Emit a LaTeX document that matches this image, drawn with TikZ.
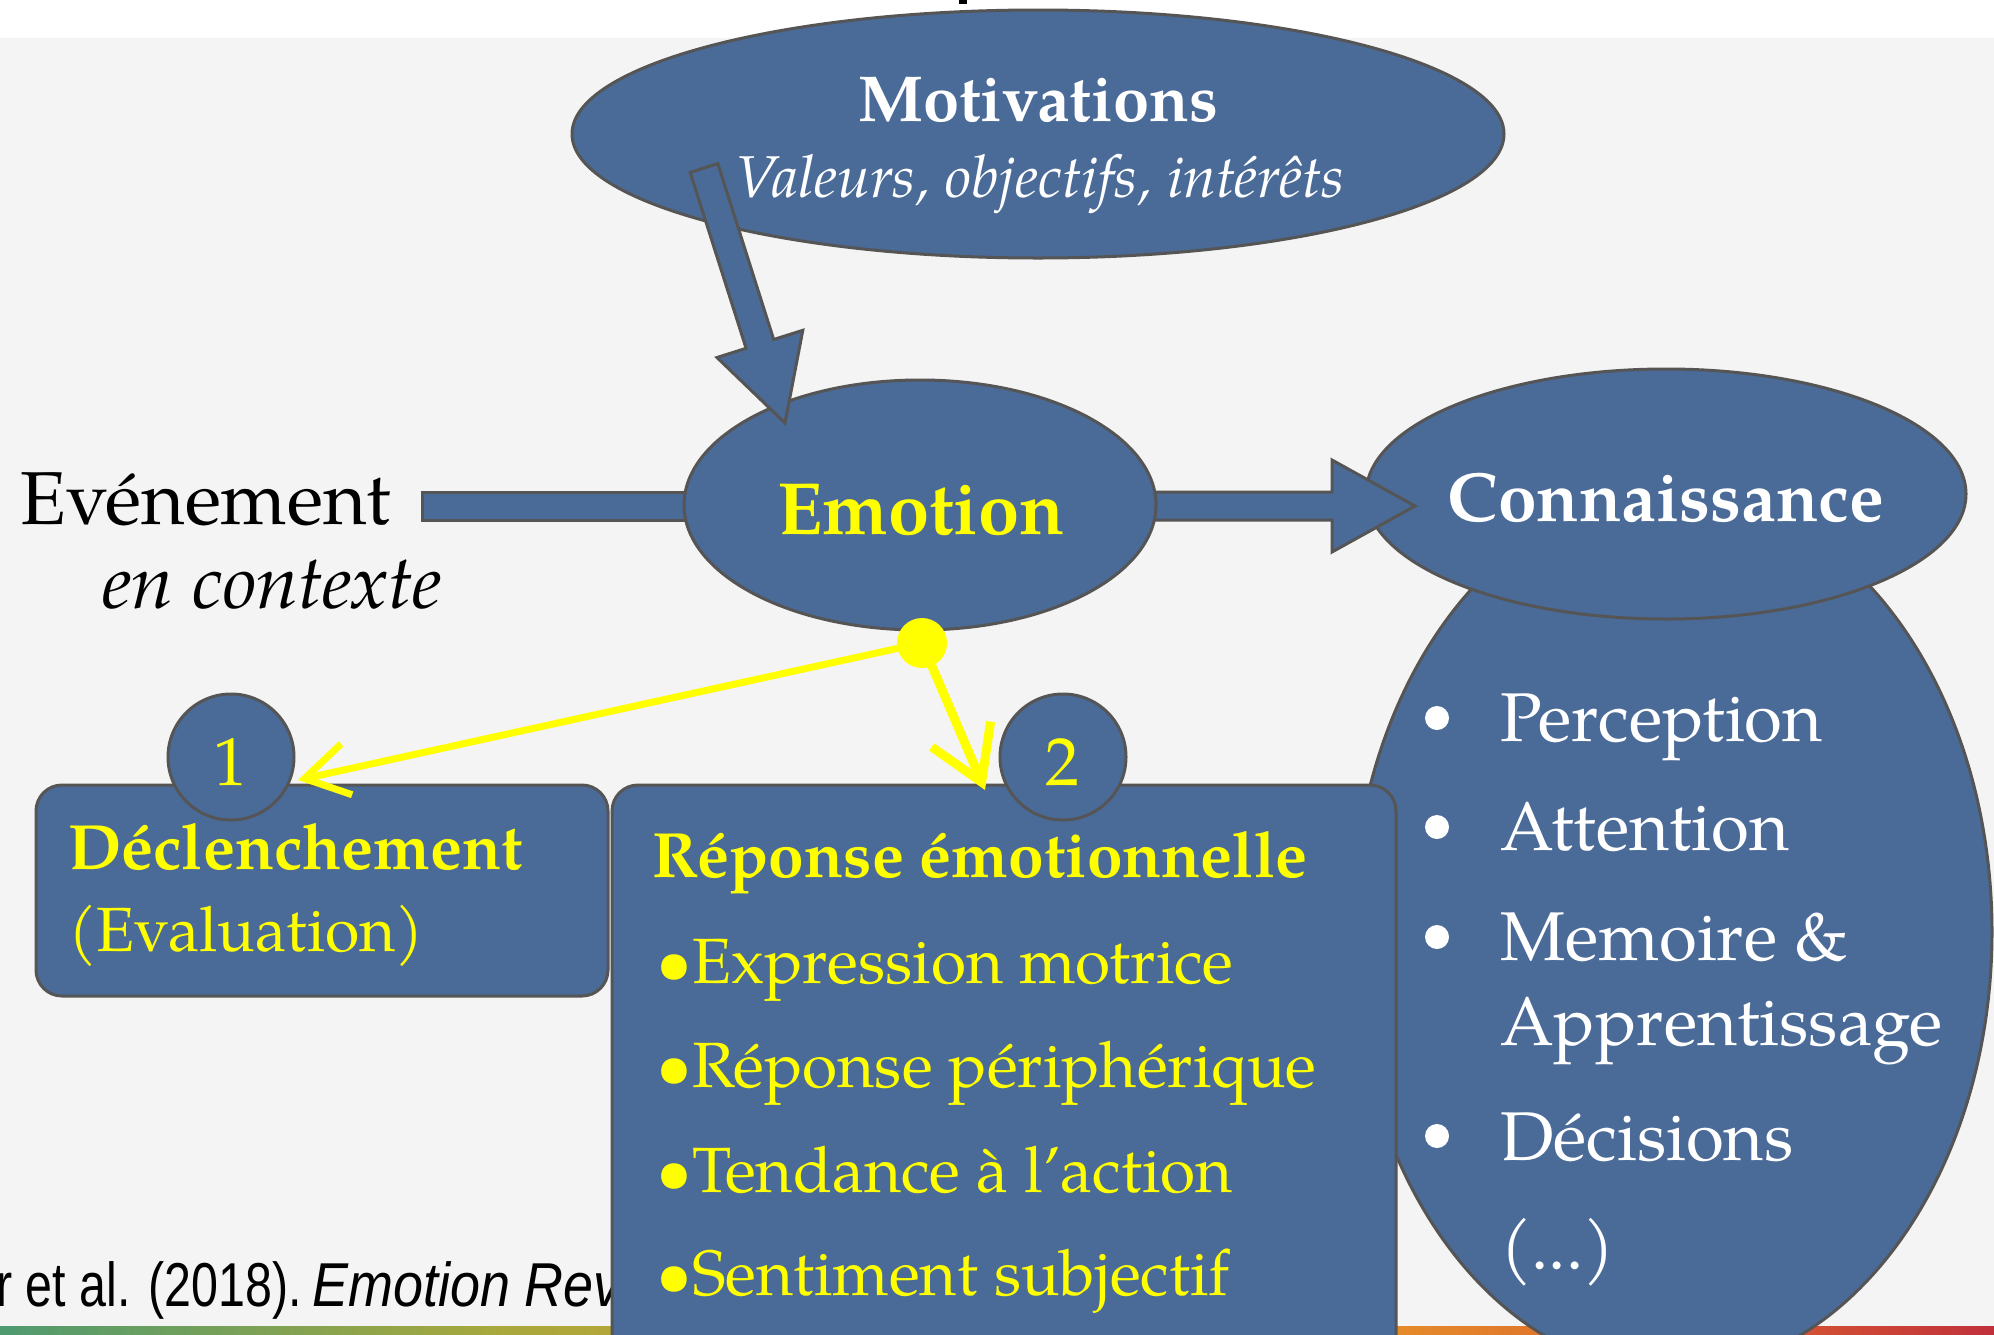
\documentclass[tikz,border=0pt]{standalone}
\usepackage{fontspec}
\setmainfont{TeX Gyre Pagella}
\newfontfamily\citefont[FakeStretch=0.78]{Liberation Sans}
\newfontfamily\citeit[FakeStretch=0.87]{Liberation Sans Italic}
\usetikzlibrary{arrows.meta,shapes.geometric}
\definecolor{shapeblue}{HTML}{4A6A98}
\definecolor{edgegray}{HTML}{555555}
\definecolor{bggray}{HTML}{F4F4F4}
\definecolor{yel}{HTML}{FFFF00}
\definecolor{gA}{HTML}{4F9A70}
\definecolor{gB}{HTML}{A8A83C}
\definecolor{gC}{HTML}{D8A030}
\definecolor{gD}{HTML}{E58A2A}
\definecolor{gE}{HTML}{D85A30}
\definecolor{gF}{HTML}{C0303C}
\newcommand{\fsz}[1]{\fontsize{#1}{#1}\selectfont}
\begin{document}
\begin{tikzpicture}[x=1pt,y=-1pt,
  blob/.style={draw=edgegray, line width=3pt, fill=shapeblue},
  oval/.style={blob, ellipse, inner sep=0pt},
  box/.style={blob, rectangle, rounded corners=26pt, inner sep=0pt},
  lbl/.style={inner sep=0pt, anchor=base},
  lblw/.style={inner sep=0pt, anchor=base west},
  wdot/.style={circle, fill=white, minimum size=24pt, inner sep=0pt},
  yline/.style={draw=yel, line cap=round},
]
\useasboundingbox (0,0) rectangle (1994,1334);
\clip (0,0) rectangle (1994,1334);
\fill[white] (0,0) rectangle (1994,1334);
\fill[bggray] (0,38) rectangle (1994,1334);
\fill[black] (959,0) rectangle (967,4);

% bottom colour bar
\shade[left color=gA,right color=gB] (0,1326) rectangle (500,1334);
\shade[left color=gB,right color=gC] (500,1326) rectangle (1000,1334);
\shade[left color=gC,right color=gD] (1000,1326) rectangle (1400,1334);
\shade[left color=gD,right color=gE] (1400,1326) rectangle (1750,1334);
\shade[left color=gE,right color=gF] (1750,1326) rectangle (1994,1334);

% citation
\node[lblw, font=\citefont\fsz{62}] (cite) at (-4,1306) {r et al. (2018).};
\node[lblw, font=\citeit\fsz{62}] (cite2) at (312,1306) {Emotion Rev};

% shapes
\node[oval, minimum width=932pt, minimum height=248pt] (motiv) at (1038,134) {};
\node[oval, minimum width=640pt, minimum height=880pt] (list) at (1672,932) {};
\node[oval, minimum width=600pt, minimum height=250pt] (conn) at (1666,494) {};
\draw[blob] (1140,492) -- (1332,492) -- (1332,460) -- (1415,506) -- (1332,552) -- (1332,520) -- (1140,520) -- cycle;
\draw[blob] (422,492) rectangle (800,520);
\node[oval, minimum width=472pt, minimum height=250pt] (emo) at (920,505) {};
\draw[blob] (690.2,172.4) -- (717.8,163.6) -- (773.7,339.5) -- (802.8,330.3) -- (785,423) -- (717.0,357.5) -- (746.1,348.3) -- cycle;
\node[box, minimum width=572pt, minimum height=211pt] (decl) at (322,890.5) {};
\node[box, minimum width=784pt, minimum height=580pt] (rep) at (1004,1075) {};
\node[blob, circle, minimum size=126pt, inner sep=0pt] (c1) at (231,757) {};
\node[blob, circle, minimum size=126pt, inner sep=0pt] (c2) at (1063,757) {};

% texts
\node[lbl, text=white, font=\fsz{65}\bfseries] (tmotiv) at (1038,121) {Motivations};
\node[lbl, text=white, font=\fsz{59}\itshape] (tval) at (1040,197) {Valeurs, objectifs, intérêts};
\node[lbl, text=yel, font=\fsz{74}\bfseries] (temo) at (921,534) {Emotion};
\node[lbl, text=white, font=\fsz{69.5}\bfseries] (tconn) at (1666,521) {Connaissance};
\node[lblw, text=black, font=\fsz{75}] (tev) at (20,524) {Evénement};
\node[lblw, text=black, font=\fsz{75.5}\itshape] (tctx) at (102,608) {en contexte};
\node[lbl, text=yel, font=\fsz{68}] (n1) at (230,785) {1};
\node[lbl, text=yel, font=\fsz{68}] (n2) at (1062,785) {2};
\node[lblw, text=yel, font=\fsz{64}\bfseries] (tdecl) at (68,869) {Déclenchement};
\node[lblw, text=yel, font=\fsz{62.5}] (teval) at (68,951) {(Evaluation)};
\node[lblw, text=yel, font=\fsz{64}\bfseries] (trep) at (652,877) {Réponse émotionnelle};
\node[lblw, text=yel, font=\fsz{64}] (r1) at (656,983) {•Expression motrice};
\node[lblw, text=yel, font=\fsz{64}] (r2) at (656,1087) {•Réponse périphérique};
\node[lblw, text=yel, font=\fsz{64}] (r3) at (656,1192) {•Tendance à l’action};
\node[lblw, text=yel, font=\fsz{64}] (r4) at (656,1295) {•Sentiment subjectif};

\node[wdot] (d1) at (1437,718) {};
\node[wdot] (d2) at (1437,827) {};
\node[wdot] (d3) at (1437,937) {};
\node[wdot] (d4) at (1437,1136) {};
\node[lblw, text=white, font=\fsz{69}] (l1) at (1500,741) {Perception};
\node[lblw, text=white, font=\fsz{69}] (l2) at (1500,850) {Attention};
\node[lblw, text=white, font=\fsz{69}] (l3) at (1500,960) {Memoire \&};
\node[lblw, text=white, font=\fsz{69}] (l4) at (1500,1045) {Apprentissage};
\node[lblw, text=white, font=\fsz{69}] (l5) at (1500,1160) {Décisions};
\node[lblw, text=white, font=\fsz{69}] (l6) at (1500,1269) {(...)};

% yellow pointers
\node[circle, fill=yel, minimum size=50pt, inner sep=0pt] (dot) at (922,643) {};
\coordinate (tip1) at (298,780);
\coordinate (tip2) at (985,790);
\draw[yline, line width=7pt, -{Straight Barb[length=43pt,width=52pt]}] (dot.center) -- (tip1);
\draw[yline, line width=9pt, -{Straight Barb[length=52pt,width=64pt]}] (dot.center) -- (tip2);
\end{tikzpicture}
\end{document}
